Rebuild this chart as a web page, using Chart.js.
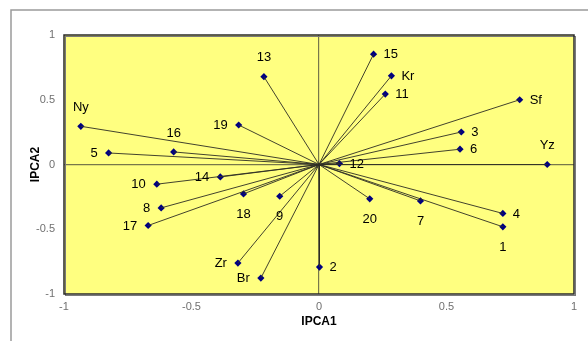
<!DOCTYPE html>
<html>
<head>
<meta charset="utf-8">
<script src="https://cdn.jsdelivr.net/npm/chart.js@4/dist/chart.umd.min.js"></script>
<style>
  html, body { margin: 0; padding: 0; background: #ffffff; }
  #wrap { width: 588px; height: 341px; position: relative; }
</style>
</head>
<body>
<div id="wrap"><canvas id="c" width="588" height="341"></canvas></div>
<script>
// Biplot: genotype / environment scores on the first two interaction PCA axes
const names = ['Ny', '5', '16', '19', '13', '15', 'Kr', '11', 'Sf', '3', '6', 'Yz', '12',
               '10', '14', '8', '17', '18', '9', 'Zr', 'Br', '20', '7', '4', '1', '2'];
const ipca1 = [-0.934, -0.825, -0.570, -0.315, -0.216, 0.214, 0.284, 0.260, 0.787, 0.558, 0.553, 0.895, 0.080,
               -0.636, -0.387, -0.619, -0.670, -0.296, -0.154, -0.318, -0.228, 0.199, 0.398, 0.721, 0.721, 0.002];
const ipca2 = [0.295, 0.089, 0.097, 0.305, 0.678, 0.852, 0.685, 0.544, 0.500, 0.251, 0.118, 0.000, 0.007,
               -0.152, -0.096, -0.335, -0.471, -0.227, -0.245, -0.761, -0.877, -0.265, -0.281, -0.378, -0.481, -0.792];
const labelSide = ['above', 'left', 'above', 'left', 'above', 'right', 'right', 'right', 'right', 'right', 'right', 'above', 'right',
                   'left', 'left', 'left', 'left', 'below', 'below', 'left', 'left', 'below', 'below', 'right', 'below', 'right'];
const axisTicks = [-1, -0.5, 0, 0.5, 1];

const FONT = '"Liberation Sans", Arial, sans-serif';

// vectors from the origin to each score
const vectorSets = names.map((n, i) => ({
  type: 'line',
  data: [{ x: 0, y: 0 }, { x: ipca1[i], y: ipca2[i] }],
  borderColor: 'rgba(45,45,35,0.9)',
  borderWidth: 1,
  pointRadius: 0,
  fill: false
}));

const markerSet = {
  type: 'scatter',
  data: names.map((n, i) => ({ x: ipca1[i], y: ipca2[i] })),
  backgroundColor: '#000080',
  borderColor: '#000080',
  borderWidth: 0,
  pointStyle: 'rectRot',
  pointRadius: 3.6
};

const framePlugin = {
  id: 'frame',
  beforeDraw(chart) {
    const ctx = chart.ctx;
    const a = chart.chartArea;
    ctx.save();
    ctx.fillStyle = '#ffffff';
    ctx.fillRect(0, 0, chart.width, chart.height);
    ctx.strokeStyle = '#9a9a9a';
    ctx.lineWidth = 1.5;
    ctx.strokeRect(11, 10, chart.width + 20, chart.height + 20);
    ctx.fillStyle = '#ffff80';
    ctx.fillRect(a.left, a.top, a.right - a.left, a.bottom - a.top);
    ctx.restore();
  },
  afterDraw(chart) {
    const ctx = chart.ctx;
    const a = chart.chartArea;
    ctx.save();
    ctx.strokeStyle = '#7a7a7a';
    ctx.lineWidth = 1;
    ctx.strokeRect(a.left + 1.5, a.top + 1.5, a.right - a.left, a.bottom - a.top);
    ctx.strokeStyle = '#2a2a2a';
    ctx.lineWidth = 1.5;
    ctx.strokeRect(a.left, a.top, a.right - a.left, a.bottom - a.top);
    ctx.restore();
  }
};

const labelPlugin = {
  id: 'pointLabels',
  afterDatasetsDraw(chart) {
    const ctx = chart.ctx;
    const xs = chart.scales.x, ys = chart.scales.y;
    ctx.save();
    ctx.font = '13px ' + FONT;
    ctx.fillStyle = '#000000';
    names.forEach((n, i) => {
      const px = xs.getPixelForValue(ipca1[i]);
      const py = ys.getPixelForValue(ipca2[i]);
      const side = labelSide[i];
      ctx.textBaseline = 'middle';
      if (side === 'left') {
        ctx.textAlign = 'right';
        ctx.fillText(n, px - 11, py + 0.5);
      } else if (side === 'right') {
        ctx.textAlign = 'left';
        ctx.fillText(n, px + 10, py + 0.5);
      } else if (side === 'above') {
        ctx.textAlign = 'center';
        ctx.fillText(n, px, py - 19);
      } else {
        ctx.textAlign = 'center';
        ctx.fillText(n, px, py + 20.5);
      }
    });
    ctx.restore();
  }
};

const zeroLine = (c) => (c.tick && c.tick.value === 0) ? '#77774a' : 'rgba(0,0,0,0)';

new Chart(document.getElementById('c'), {
  data: { datasets: [...vectorSets, markerSet] },
  options: {
    responsive: false,
    animation: false,
    events: [],
    layout: { padding: { left: 0, top: 35, right: 14, bottom: 0 } },
    plugins: { legend: { display: false }, tooltip: { enabled: false } },
    scales: {
      x: {
        type: 'linear',
        min: -1, max: 1,
        afterBuildTicks: (s) => { s.ticks = axisTicks.map(v => ({ value: v })); },
        afterFit: (s) => { s.height = 47; },
        grid: { color: zeroLine, lineWidth: 1.2, drawTicks: false },
        border: { display: false },
        ticks: { color: '#707070', font: { family: FONT, size: 11 }, padding: 6, maxRotation: 0,
                 callback: (v) => String(v) },
        title: { display: true, text: 'IPCA1', color: '#000000',
                 font: { family: FONT, size: 12, weight: 'bold' }, padding: { top: 0, bottom: 12 } }
      },
      y: {
        type: 'linear',
        min: -1, max: 1,
        afterBuildTicks: (s) => { s.ticks = axisTicks.map(v => ({ value: v })); },
        afterFit: (s) => { s.width = 64; },
        grid: { color: zeroLine, lineWidth: 1.2, drawTicks: false },
        border: { display: false },
        ticks: { color: '#707070', font: { family: FONT, size: 11 }, padding: 9,
                 callback: (v) => String(v) },
        title: { display: true, text: 'IPCA2', color: '#000000',
                 font: { family: FONT, size: 12, weight: 'bold' }, padding: { top: 28, bottom: 0 } }
      }
    }
  },
  plugins: [framePlugin, labelPlugin]
});
</script>
</body>
</html>
